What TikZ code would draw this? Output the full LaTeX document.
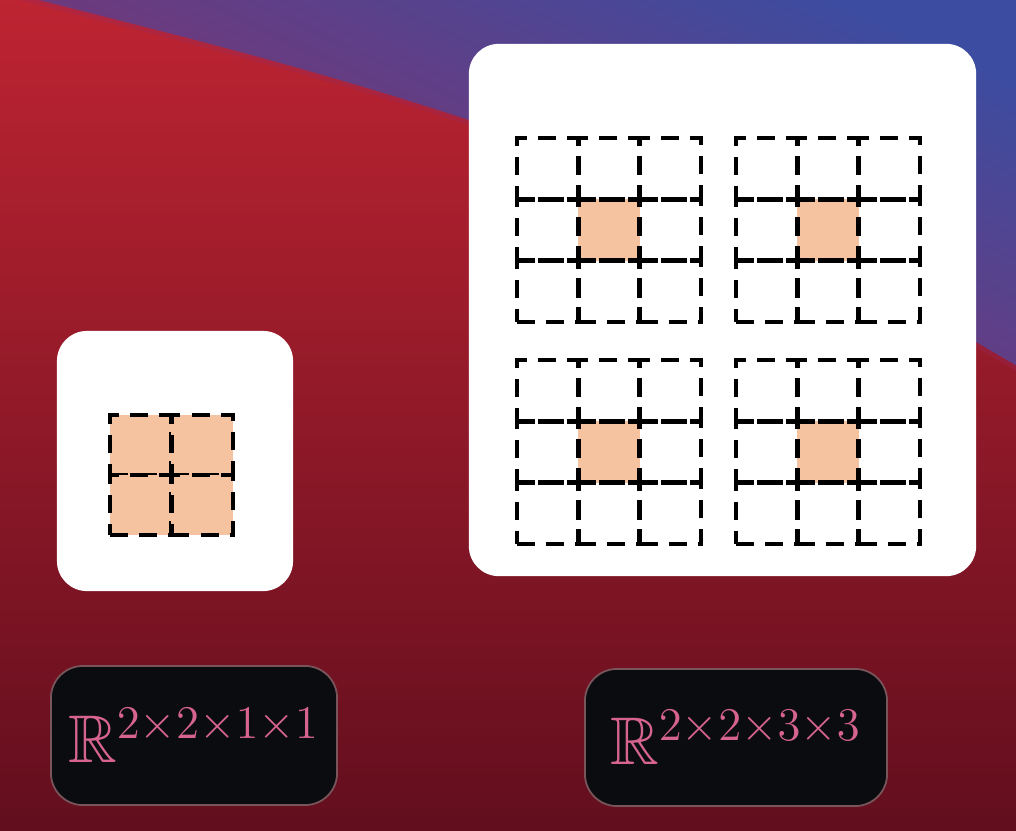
\documentclass[tikz,border=0pt]{standalone}
\usepackage{amsmath}
\usepackage{amssymb}
\usepackage{graphicx}
\usepackage{tikz}
\usetikzlibrary{positioning}

\begin{document}
\begin{tikzpicture}[x=0.01cm, y=-0.01cm,
    panel/.style={fill=white, rounded corners=0.3cm, inner sep=0pt},
    tagbox/.style={draw=tagline, line width=0.5pt, fill=tagbg, rounded corners=0.32cm,
      text=tagtext, inner sep=0pt, font=\fontsize{17.28}{21}\selectfont},
    cell/.style={draw=black, line width=0.045cm, dash pattern=on 0.18cm off 0.11cm,
      minimum size=0.613cm, inner sep=0pt, outer sep=0pt},
    hit/.style={fill=peach, minimum size=0.613cm, inner sep=0pt}]
  \definecolor{peach}{RGB}{245,195,160}
  \definecolor{tagbg}{RGB}{10,12,16}
  \definecolor{tagline}{RGB}{120,85,90}
  \definecolor{tagtext}{RGB}{215,100,140}
  \definecolor{redtop}{RGB}{190,36,50}
  \definecolor{redmid}{RGB}{160,26,40}
  \definecolor{redbot}{RGB}{98,14,30}
  \definecolor{plum}{RGB}{150,42,95}
  \definecolor{violet}{RGB}{92,56,136}
  \definecolor{skyblue}{RGB}{60,76,160}
  \useasboundingbox (0,0) rectangle (1016,830);

  % background
  \shade[top color=redtop, middle color=redmid, bottom color=redbot] (0,0) rectangle (1016,830);
  \draw[plum, line width=0.06cm, opacity=0.3] (-20,-13) .. controls (250,57) and (650,142) .. (1040,382);
  \begin{scope}
    \clip (-20,-15) .. controls (250,55) and (650,140) .. (1040,380) -- (1040,-20) -- cycle;
    \shade[bottom color=plum, middle color=violet, top color=skyblue, shading angle=-25] (-20,-20) rectangle (1040,400);
  \end{scope}

  % panels
  \node[panel, minimum width=2.36cm, minimum height=2.6cm] (small) at (175,461) {};
  \node[panel, minimum width=5.07cm, minimum height=5.32cm] (big) at (722.5,310) {};

  % 2x2 kernel
  \foreach \i in {0,1}
    \foreach \j in {0,1}
      \node[cell, fill=peach, minimum width=0.615cm, minimum height=0.6cm] (s-\i-\j) at ({140.75+61.5*\i},{445+60*\j}) {};

  % four 3x3 kernels
  \foreach \gx/\gy/\g in {517/138/a, 736/138/b, 517/360/c, 736/360/d} {
    \node[hit] (\g-hit) at ({\gx+91.95},{\gy+91.95}) {};
    \foreach \i in {0,1,2}
      \foreach \j in {0,1,2}
        \node[cell] (\g-\i-\j) at ({\gx+30.65+61.3*\i},{\gy+30.65+61.3*\j}) {};
  }

  % shapes
  \node[tagbox, minimum width=2.86cm, minimum height=1.39cm] (lbl-small) at (194,735.5) {\scalebox{1.11}{$\mathbb{R}^{2\times2\times1\times1}$}};
  \node[tagbox, minimum width=3.02cm, minimum height=1.37cm] (lbl-big) at (736,737.5) {\scalebox{1.11}{$\mathbb{R}^{2\times2\times3\times3}$}};
\end{tikzpicture}
\end{document}
